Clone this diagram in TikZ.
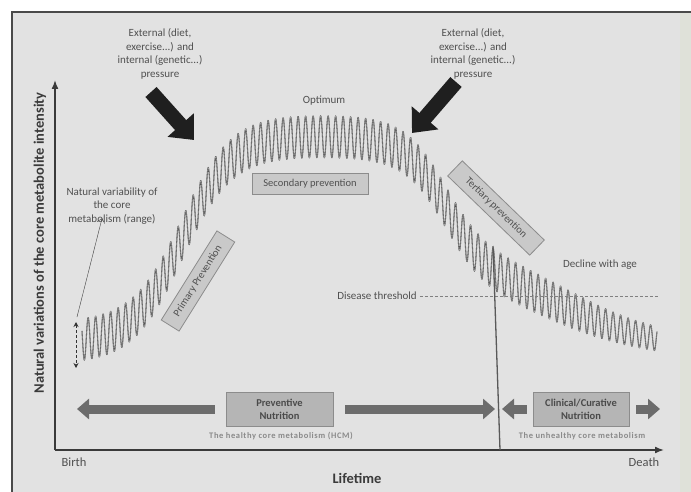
\documentclass[tikz,border=0pt]{standalone}
\usepackage{fontspec}
\setmainfont{Carlito}
\usepackage{tikz}
\usetikzlibrary{arrows.meta}
\definecolor{panel}{HTML}{E2E2E2}
\definecolor{strip}{HTML}{DFE1D9}
\definecolor{frame}{HTML}{4A4A4A}
\definecolor{txt}{HTML}{505050}
\definecolor{axis}{HTML}{3A3A3A}
\definecolor{wavecol}{HTML}{4A4A4A}
\definecolor{wavefill}{HTML}{A8A8A8}
\definecolor{boxfill}{HTML}{C9C9C9}
\definecolor{boxline}{HTML}{8C8C8C}
\definecolor{nutfill}{HTML}{B5B5B5}
\definecolor{nuttxt}{HTML}{4A4A4A}
\definecolor{captxt}{HTML}{8A8A8A}
\definecolor{blockarrow}{HTML}{6C6C6C}

\begin{document}
\begin{tikzpicture}[x=1pt, y=-1pt,
    declare function={logi(\x)=1/(1+exp(-max(-9,min(9,\x))));
      base(\x)=343-208*logi((\x-182)/24.6)+125*logi((\x-445)/20)+90*logi((\x-560)/50);
      amp(\x)=21-10*logi((\x-600)/30);},
    lbl/.style={text=txt, font=\fontsize{11}{13.5}\selectfont, align=center, inner sep=0pt},
    axislbl/.style={text=axis, font=\fontsize{14.5}{17}\selectfont\bfseries, inner sep=0pt},
    endlbl/.style={text=txt, font=\fontsize{12.5}{15}\selectfont, inner sep=0pt},
    prevbox/.style={shape=rectangle, draw=boxline, fill=boxfill, line width=0.8pt, minimum height=21pt, inner sep=0pt, text=txt, font=\fontsize{10.5}{12}\selectfont},
    nutbox/.style={shape=rectangle, draw=boxline, fill=nutfill, line width=0.8pt, minimum height=34pt, align=center, inner sep=0pt, text=nuttxt, font=\fontsize{10.5}{13}\selectfont\bfseries},
    caption/.style={text=captxt, font=\fontsize{8.5}{10}\selectfont\bfseries\addfontfeatures{LetterSpace=7}, inner sep=0pt},
    pressure/.style={line width=15pt, draw=black!88, -{Triangle[length=20pt,width=34pt]}},
    lifearrow/.style={line width=9pt, draw=blockarrow, -{Triangle[length=12pt,width=20pt]}},
    axisline/.style={line width=1.6pt, draw=axis, -{Latex[length=9pt,width=7pt]}},
    wave/.style={draw=wavecol, line width=0.35pt, line join=round, double=wavefill, double distance=0.35pt}]
	% Paths, nodes and wires:
	\useasboundingbox (0,0) rectangle (691,492);
	\fill[white] (0,0) rectangle (691,492);
	\fill[panel] (12,12) rectangle (680,492);
	\fill[strip] (680,12) rectangle (691,492);
	\draw[frame, line width=1.2pt] (12,492) -- (12,12) -- (691,12);
	\coordinate (O) at (55,450);
	\coordinate (Ytop) at (55,80);
	\coordinate (Xend) at (664,450);
	\draw[axisline] (O) -- (Ytop);
	\draw[axisline] (O) -- (Xend);
	\node[axislbl, rotate=90] (N1) at (40,243) {Natural variations of the core metabolite intensity};
	\node[axislbl] (N2) at (357,478) {Lifetime};
	\node[endlbl] (N3) at (74,462) {Birth};
	\node[endlbl] (N4) at (644,462) {Death};
	\draw[wave] plot[domain=82:657, samples=1500] (\x, {base(\x)+amp(\x)*sin(48*mod(\x,7.5))});
	\node[lbl] (N5) at (160,54) {External (diet,\\exercise...) and\\internal (genetic...)\\pressure};
	\node[lbl] (N6) at (473,54) {External (diet,\\exercise...) and\\internal (genetic...)\\pressure};
	\coordinate (A1) at (151,92);
	\coordinate (A2) at (194,140);
	\coordinate (A3) at (456,82);
	\coordinate (A4) at (412,133);
	\draw[pressure] (A1) -- (A2);
	\draw[pressure] (A3) -- (A4);
	\node[lbl] (N7) at (324,101) {Optimum};
	\node[lbl] (N8) at (600,265) {Decline with age};
	\node[lbl] (N9) at (112,206) {Natural variability of\\the core\\metabolism (range)};
	\coordinate (R1) at (76,322);
	\coordinate (R2) at (76,368);
	\draw[densely dashed, line width=1pt, draw=black!80, {Stealth[length=5pt,width=5pt]}-{Stealth[length=5pt,width=5pt]}] (R1) -- (R2);
	\coordinate (R3) at (77,317);
	\draw[line width=0.4pt, draw=black!75, -{Straight Barb[length=4pt]}] (R3) -- ([xshift=-10pt, yshift=6pt]N9.south);
	\node[prevbox, rotate=58, minimum width=105pt] (N10) at (198,281) {Primary Prevention};
	\node[prevbox, minimum width=116pt] (N11) at (310,184) {Secondary prevention};
	\node[prevbox, rotate=-44, minimum width=114pt] (N12) at (496,208) {Tertiary prevention};
	\node[lbl] (N13) at (377,296) {Disease threshold};
	\coordinate (T1) at (658,296);
	\draw[densely dashed, line width=0.4pt, draw=black!50] (N13.east) ++(3,0) -- (T1);
	\coordinate (V1) at (493,246);
	\coordinate (V2) at (500,450);
	\draw[line width=1.3pt, draw=black!65] (V1) -- (V2);
	\node[nutbox, minimum width=107pt] (N14) at (279.5,409) {Preventive\\Nutrition};
	\node[nutbox, minimum width=96pt] (N15) at (581,409) {Clinical/Curative\\Nutrition};
	\coordinate (B1) at (77,409);
	\coordinate (B2) at (495,409);
	\coordinate (B3) at (502,409);
	\coordinate (B4) at (660,409);
	\draw[lifearrow] ([xshift=-11pt]N14.west) -- (B1);
	\draw[lifearrow] ([xshift=12pt]N14.east) -- (B2);
	\draw[lifearrow] ([xshift=-6pt]N15.west) -- (B3);
	\draw[lifearrow] ([xshift=7pt]N15.east) -- (B4);
	\node[caption] (N16) at (281,436) {The healthy core metabolism (HCM)};
	\node[caption] (N17) at (582,436) {The unhealthy core metabolism};
\end{tikzpicture}
\end{document}
